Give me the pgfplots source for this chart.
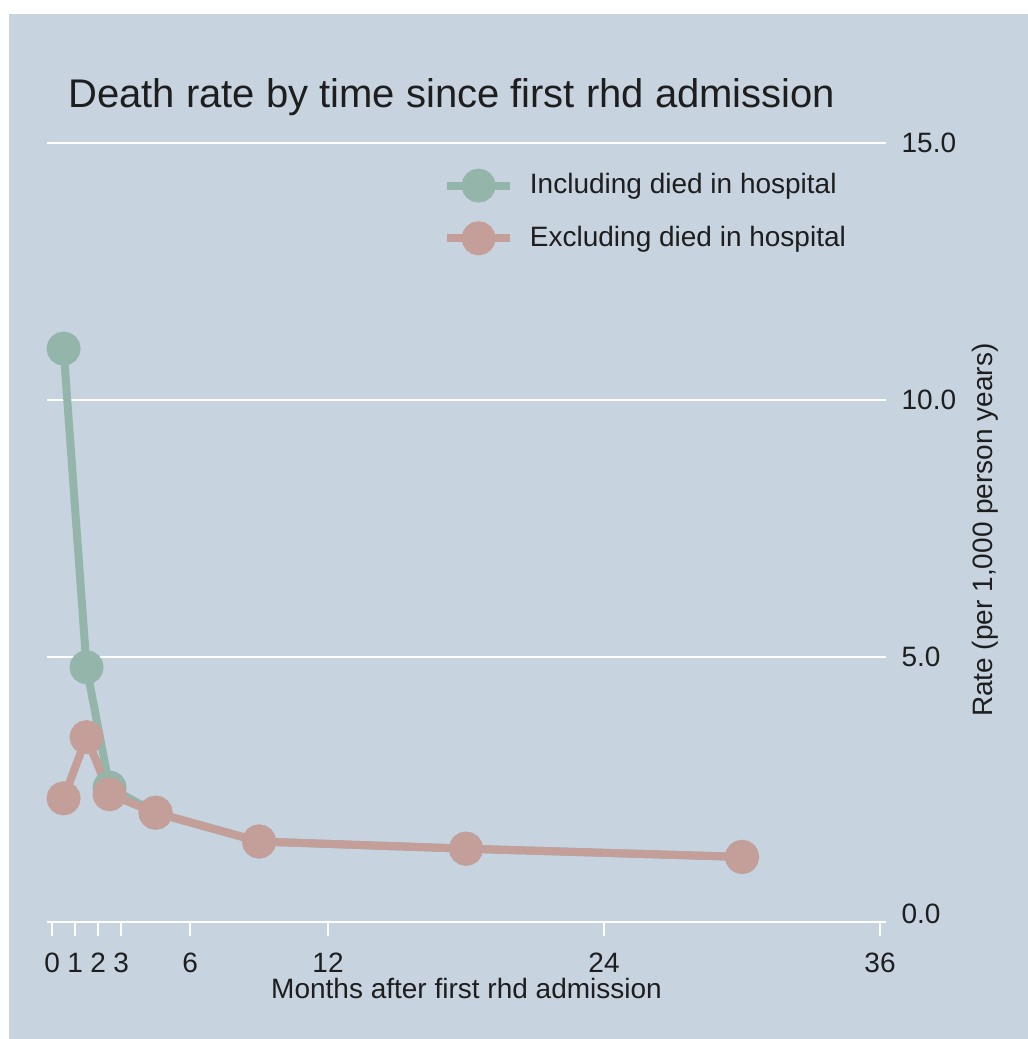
\documentclass[border=0pt]{standalone}
\usepackage{pgfplots}
\pgfplotsset{compat=1.18}
\usepackage{fontspec}
\setmainfont{Liberation Sans}
\definecolor{bg}{RGB}{199,211,223}
\definecolor{inc}{RGB}{148,182,170}
\definecolor{exc}{RGB}{196,158,152}
\definecolor{txt}{RGB}{30,30,30}
\begin{document}
\begin{tikzpicture}
\fill[white] (0,0) rectangle (771pt,779.25pt);
\fill[bg] (6.75pt,0) rectangle (771pt,768.75pt);
\node[anchor=base west, font=\fontsize{30}{36}\selectfont, text=txt, inner sep=0pt] at (51pt,698.25pt) {Death rate by time since first rhd admission};
\begin{axis}[
  at={(35.25pt,87.75pt)}, anchor=south west,
  scale only axis, width=629.25pt, height=584.25pt,
  xmin=-0.22, xmax=36.26, ymin=-0.156, ymax=15,
  clip=false,
  axis x line=bottom, axis y line=right,
  x axis line style={-, white, line width=2.2pt},
  y axis line style={draw=none},
  xtick={0,1,2,3,6,12,24,36},
  xticklabels={0,1,2,3,6,12,24,36},
  ytick={5,10,15},
  yticklabels={5.0,10.0,15.0},
  extra y ticks={0},
  extra y tick labels={0.0},
  extra y tick style={ymajorgrids=false},
  ymajorgrids=true,
  grid style={white, line width=2.2pt},
  tick align=outside,
  major tick length=10.5pt,
  xtick style={white, line width=1.6pt},
  ytick style={draw=none},
  /pgf/number format/assume math mode=true,
  ticklabel style={font=\fontsize{21}{25}\selectfont, text=txt},
  xticklabel style={anchor=base, yshift=-27pt},
  yticklabel style={anchor=west, inner sep=0pt, xshift=1pt},
  xlabel={Months after first rhd admission},
  xlabel style={at={(rel axis cs:0.5,-0.0976)}, anchor=base, font=\fontsize{21}{25}\selectfont, text=txt, inner sep=0pt},
  ylabel={Rate (per 1,000 person years)},
  ylabel style={at={(rel axis cs:1.118,0.503)}, anchor=center, font=\fontsize{21}{25}\selectfont, text=txt, inner sep=0pt},
  legend style={draw=none, fill=none, at={(rel axis cs:0.472,0.9640)}, anchor=north west,
    font=\fontsize{21}{25}\selectfont, text=txt, inner sep=0pt, row sep=18pt,
    nodes={inner sep=0pt, text height=17pt, text depth=4.5pt},
    /tikz/every odd column/.append style={column sep=12pt}},
  legend cell align=left,
  legend image code/.code={\draw[#1, mark repeat=2, mark phase=2] plot coordinates {(0pt,0pt) (23.5pt,0pt) (47pt,0pt)};},
]
\addplot[color=inc, line width=6pt, mark=*, mark size=9.75pt, mark options={draw=none, fill=inc}]
  coordinates {(0.5,11.0) (1.5,4.80) (2.5,2.46) (4.5,1.97) (9,1.41) (18,1.27) (30,1.11)};
\addlegendentry{Including died in hospital}
\addplot[color=exc, line width=6pt, mark=*, mark size=9.75pt, mark options={draw=none, fill=exc}]
  coordinates {(0.5,2.25) (1.5,3.44) (2.5,2.33) (4.5,1.97) (9,1.41) (18,1.27) (30,1.11)};
\addlegendentry{Excluding died in hospital}
\end{axis}
\end{tikzpicture}
\end{document}
